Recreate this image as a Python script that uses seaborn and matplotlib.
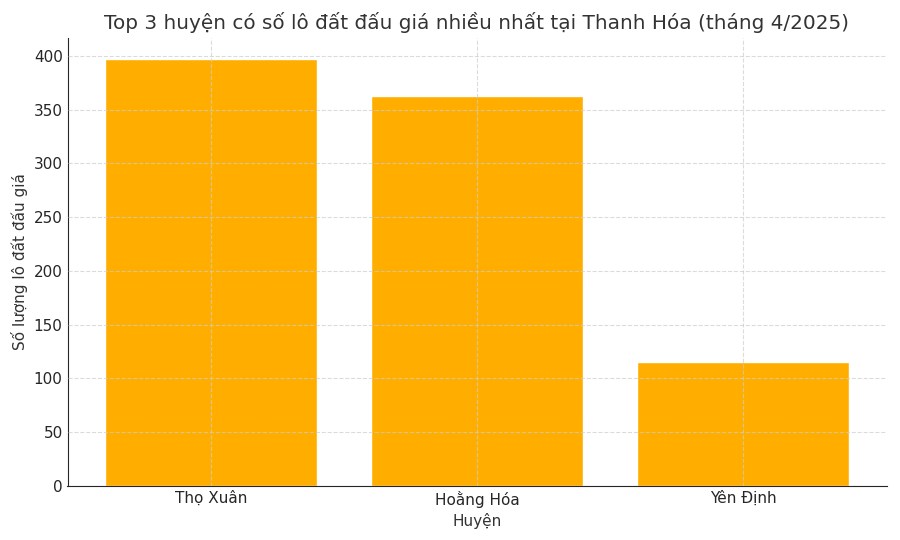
import matplotlib
matplotlib.use("Agg")
import matplotlib.pyplot as plt
import seaborn as sns

# so lo dat dau gia, thang 4/2025
districts = ["Thọ Xuân", "Hoằng Hóa", "Yên Định"]
counts = [397, 363, 115]

sns.set_style("white")
plt.rcParams['font.family'] = ['DejaVu Sans']

fig, ax = plt.subplots(figsize=(9, 5.4), dpi=100)
sns.barplot(x=districts, y=counts, color="#FFAE00", saturation=1, width=0.8, ax=ax)

ax.set_xlim(-0.54, 2.54)
ax.set_axisbelow(False)
ax.grid(True, linestyle="--", color="#cccccc", alpha=0.7, linewidth=0.8)
sns.despine(ax=ax)
ax.tick_params(direction="in", length=3, labelsize=11)

ax.set_title("Top 3 huyện có số lô đất đấu giá nhiều nhất tại Thanh Hóa (tháng 4/2025)",
             fontsize=14.4, color="#333333")
ax.set_xlabel("Huyện", fontsize=11, color="#333333")
ax.set_ylabel("Số lượng lô đất đấu giá", fontsize=11, color="#333333")

plt.subplots_adjust(left=0.075, right=0.985, top=0.93, bottom=0.1)
fig.savefig("out.png", dpi=100)
